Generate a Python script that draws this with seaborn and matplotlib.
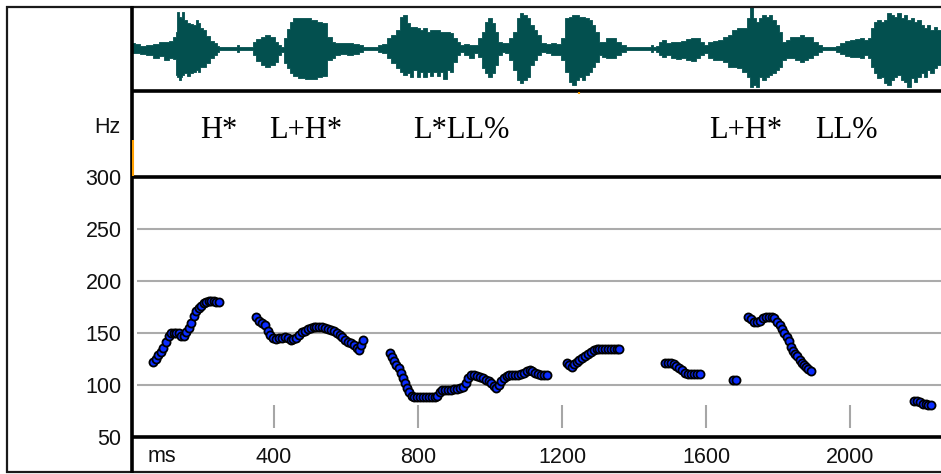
import numpy as np
import pandas as pd
import matplotlib
matplotlib.use("Agg")
import matplotlib.pyplot as plt
from matplotlib.lines import Line2D
import seaborn as sns

# ---------------- data ----------------
# F0 track (ms, Hz), one list pair per voiced stretch
p1_ms = [65, 72, 79, 86, 93, 100, 107, 114, 121, 128, 135, 142, 149, 156, 163, 170, 177, 184,
         191, 198, 205, 212, 219, 226, 233, 240, 246]
p1_hz = [122, 125, 129, 132, 136, 141, 147, 150, 150, 150, 150, 147, 147, 151, 155, 160, 166, 171,
         174, 176, 179, 180, 181, 181, 181, 180, 180]
p2_ms = [350, 358, 366, 374, 382, 390, 398, 406, 414, 422, 430, 438, 446, 454, 462, 470, 478, 486,
         494, 502, 510, 518, 526, 534, 542, 550, 558, 566, 574, 582, 590, 598, 606, 614, 622, 630,
         636, 642, 648]
p2_hz = [165, 162, 160, 158, 152, 148, 145, 144, 145, 145, 146, 145, 143, 144, 145, 148, 151, 152,
         154, 155, 156, 156, 156, 156, 155, 154, 153, 152, 150, 148, 146, 143, 141, 140, 138, 136,
         134, 138, 143]
p3_ms = [722, 728, 734, 740, 746, 752, 758, 764, 770, 776, 782, 790, 798, 806, 814, 822, 830, 838,
         846, 852, 860, 868, 876, 884, 892, 900, 908, 916, 924, 932, 940, 948, 956, 964, 972, 980,
         988, 996, 1004, 1012, 1018, 1024, 1030, 1038, 1046, 1054, 1062, 1070, 1078, 1086, 1094,
         1102, 1110, 1118, 1126, 1134, 1142, 1150, 1157]
p3_hz = [131, 127, 123, 119, 116, 112, 107, 102, 97, 93, 89, 88, 88, 88, 88, 88, 88, 88,
         88, 89, 93, 95, 95, 95, 95, 96, 96, 97, 98, 102, 107, 110, 110, 109, 108, 107,
         105, 104, 102, 99, 97, 100, 104, 107, 109, 110, 110, 110, 110, 111, 112,
         113, 114, 113, 112, 111, 110, 110, 110]
p4_ms = [1213, 1220, 1227, 1234, 1241, 1248, 1256, 1264, 1272, 1280, 1288, 1296, 1304, 1312, 1320,
         1328, 1336, 1344, 1352, 1358]
p4_hz = [121, 119, 117, 120, 122, 124, 126, 128, 130, 132, 134, 135, 135, 135, 135,
         135, 135, 135, 135, 135]
p5_ms = [1486, 1494, 1502, 1510, 1518, 1526, 1534, 1542, 1550, 1558, 1566, 1574, 1583]
p5_hz = [121, 121, 121, 120, 118, 116, 114, 112, 111, 111, 111, 111, 111]
p6_ms = [1676, 1684]
p6_hz = [105, 105]
p7_ms = [1718, 1726, 1734, 1742, 1750, 1758, 1766, 1774, 1782, 1790, 1798, 1806, 1812, 1818, 1824,
         1830, 1836, 1842, 1848, 1854, 1860, 1866, 1872, 1878, 1884, 1891]
p7_hz = [165, 163, 161, 161, 162, 164, 165, 165, 165, 164, 161, 158, 154, 150, 146,
         142, 137, 133, 130, 128, 124, 121, 119, 117, 115, 113]
p8_ms = [2178, 2186, 2194, 2202, 2210, 2218, 2226]
p8_hz = [85, 85, 84, 82, 82, 81, 81]

# waveform envelope (ms, upper, lower amplitude)
wave_ms = [4, 22, 36, 55, 73, 87, 104, 115, 124, 130, 133, 139, 143, 148, 154, 161, 170, 180, 185, 191,
           198, 207, 217, 228, 237, 244, 250, 295, 300, 305, 339, 344, 356, 369, 383, 397, 406, 416,
           425, 431, 439, 448, 457, 476, 494, 513, 527, 541,
           556, 565, 574, 593, 611, 630, 644, 653, 685, 694, 708, 720, 731, 745, 755, 764, 773, 782,
           792, 801, 810, 819, 829, 838, 847, 856, 866, 875, 884, 894, 903, 912, 921, 935, 949, 963,
           972, 981, 991, 1000, 1009, 1019, 1028, 1037, 1046, 1060, 1069, 1079, 1088, 1097, 1106,
           1117, 1126, 1135, 1149, 1163, 1177, 1191, 1205, 1214, 1223, 1233, 1242, 1251, 1260, 1270,
           1279, 1288, 1297, 1307, 1316, 1330, 1344, 1358, 1372, 1381, 1446, 1450, 1455, 1467, 1473,
           1482, 1496, 1510, 1524, 1538, 1552, 1566, 1580, 1589, 1598, 1612, 1626, 1640, 1654, 1668,
           1678, 1692, 1706, 1719, 1726, 1733, 1743, 1752, 1761, 1770, 1780, 1789, 1798, 1807, 1817,
           1826, 1840, 1854, 1867, 1877, 1891, 1904, 1917, 1926, 1956, 1965, 1978, 1993, 2006, 2020,
           2034, 2046, 2056, 2062, 2071, 2080, 2090, 2099, 2108, 2117, 2127, 2136, 2145, 2154, 2164,
           2173, 2182, 2191, 2201, 2210, 2219, 2228, 2238, 2247, 2253]
wave_top = [5.2, 4.2, 2.5, 3.5, 4.2, 6.2, 6.2, 7.5, 11.8, 16.8, 36.8, 31.8, 30.2, 36.8, 28.5, 25.2, 24.2, 23.5, 28.5, 25.2,
            20.2, 18.5, 12.8, 7.5, 5.2, 2.8, 1.2, 1.2, 3.5, 1.2, 1.2, 6.2, 9.5, 11.8, 13.5, 11.8, 6.8, 3.5,
            1.8, 10.2, 19.5, 26.8, 30.2, 30.8, 30.2, 28.5, 26.8, 25.2,
            11.8, 6.8, 5.2, 5.2, 5.2, 4.2, 3.5, 1.2, 1.2, 3.5, 4.2, 10.2, 13.5, 18.5, 31.8, 33.5, 25.2, 21.8,
            21.8, 20.2, 18.5, 20.2, 16.8, 18.5, 18.5, 18.5, 16.8, 16.8, 16.8, 15.2, 10.2, 6.8, 3.5, 4.2, 3.5, 3.5,
            10.2, 16.8, 26.8, 30.2, 25.2, 16.8, 6.8, 5.2, 5.2, 10.2, 16.8, 30.2, 35.2, 33.5, 30.2,
            23.5, 18.5, 13.5, 5.2, 4.2, 5.2, 4.2, 10.2, 30.2, 31.8, 33.5, 33.5, 31.8, 31.8, 30.2,
            28.5, 23.5, 16.8, 6.8, 6.8, 10.2, 10.2, 6.8, 3.5, 1.2, 1.2, 3.5, 1.2, 2.8, 6.8,
            8.5, 5.2, 6.8, 6.2, 7.5, 9.5, 10.2, 10.2, 6.8, 3.5, 6.8, 7.5, 8.5, 11.8, 13.5,
            18.5, 20.2, 20.2, 30.2, 41.8, 30.2, 26.8, 30.2, 33.5, 31.8, 33.5, 28.5, 23.5, 16.8, 6.8,
            8.5, 11.8, 11.8, 13.5, 11.8, 11.8, 6.8, 3.5, 1.2, 1.2, 2.8, 5.2, 7.5, 8.5, 9.5,
            10.2, 8.5, 10.2, 20.2, 26.8, 28.5, 26.8, 28.5, 35.2, 33.5, 31.8, 35.2, 30.2, 33.5, 28.5,
            30.2, 26.8, 28.5, 23.5, 20.2, 23.5, 18.5, 21.8, 18.5, 18.5]
wave_bot = [-4.8, -4.2, -5.8, -6.5, -9.8, -7.5, -11.5, -9.2, -10.5, -26.5, -28.2, -31.5, -28.2, -26.5, -24.8, -27.2, -24.8, -23.2, -21.5, -23.2,
            -18.2, -18.2, -14.8, -9.8, -6.5, -3.8, -1.5, -1.5, -3.2, -1.5, -1.5, -6.5, -12.5, -16.2, -18.2, -16.2, -13.2, -6.5,
            -3.2, -14.8, -19.8, -24.8, -27.2, -29.2, -30.2, -30.2, -28.2, -27.2,
            -11.5, -9.8, -6.5, -5.8, -6.5, -5.8, -3.8, -1.5, -1.5, -3.2, -4.8, -9.8, -14.8, -19.8, -23.2, -26.5, -24.8, -28.2,
            -21.5, -28.2, -23.2, -28.2, -23.2, -27.2, -23.2, -27.2, -23.2, -30.5, -21.5, -23.2, -13.2, -6.5, -3.2, -6.5, -9.8, -4.8,
            -8.2, -19.8, -24.8, -28.2, -24.8, -16.5, -6.5, -3.8, -4.8, -11.5, -21.5, -31.5, -34.8, -31.5, -28.2,
            -16.5, -11.5, -6.5, -3.2, -4.8, -6.5, -6.5, -11.5, -23.2, -33.2, -36.5, -31.5, -28.2, -31.5, -26.5,
            -23.2, -18.2, -13.2, -6.5, -8.2, -9.8, -9.8, -6.5, -3.2, -1.5, -1.5, -3.2, -1.5, -3.2, -6.5,
            -8.2, -6.5, -9.2, -10.5, -9.8, -11.5, -12.5, -9.8, -6.5, -4.8, -9.8, -11.5, -11.5, -13.2, -18.2,
            -18.2, -19.8, -23.2, -28.2, -38.2, -36.5, -38.2, -28.2, -31.5, -28.2, -26.5, -24.8, -21.5, -18.2, -11.5,
            -9.8, -9.8, -11.5, -13.2, -11.5, -9.8, -6.5, -3.2, -1.5, -1.5, -3.2, -5.8, -7.2, -8.2, -8.2,
            -9.8, -6.5, -9.8, -18.2, -24.8, -29.8, -28.2, -34.8, -36.5, -31.5, -28.2, -26.5, -31.5, -33.2, -38.2,
            -29.8, -33.2, -28.2, -24.8, -28.2, -21.5, -24.8, -19.8, -16.5, -16.5]

# labels
tone_labels = ["H*", "L+H*", "L*LL%", "L+H*", "LL%"]
tone_ms = [247, 489, 919, 1711, 1989]
hz_ticks = [50, 100, 150, 200, 250, 300]
grid_hz = [100, 150, 200, 250]
ms_ticks = [400, 800, 1200, 1600, 2000]

pitch = pd.DataFrame({
    "ms": p1_ms + p2_ms + p3_ms + p4_ms + p5_ms + p6_ms + p7_ms + p8_ms,
    "hz": p1_hz + p2_hz + p3_hz + p4_hz + p5_hz + p6_hz + p7_hz + p8_hz,
})

# ---------------- figure ----------------
sns.set_theme(style="white")
plt.rcParams["font.family"] = ["Liberation Sans", "DejaVu Sans"]

W, H = 941, 474
fig = plt.figure(figsize=(W / 100, H / 100), dpi=100)
fig.patch.set_facecolor("white")


def fx(x):
    return x / W


def fy(y):
    return 1 - y / H


XMAX = (941 - 130) / 0.36

ax_wave = fig.add_axes([fx(130), fy(90), 811 / W, 84 / H])
ax_lab = fig.add_axes([fx(130), fy(177), 811 / W, 87 / H])
ax_p = fig.add_axes([fx(130), fy(437), 811 / W, 260 / H])

# waveform
ax_wave.fill_between(wave_ms, wave_bot, wave_top, step="mid", color="#03504f",
                     edgecolor="#03504f", linewidth=0.6)
ax_wave.set_xlim(0, XMAX)
ax_wave.set_ylim(-41.5, 42.5)
ax_wave.axis("off")

# tone labels
ax_lab.set_xlim(0, XMAX)
ax_lab.set_ylim(177, 90)
ax_lab.axis("off")
for lab, t in zip(tone_labels, tone_ms):
    ax_lab.text(t, 138, lab, ha="center", va="baseline", fontsize=22,
                family=["Liberation Serif", "DejaVu Serif"], color="#000000")

# pitch track
ax_p.hlines(grid_hz, 19, XMAX, color="#ababab", lw=1.5, zorder=1)
ax_p.vlines(ms_ticks, 58.7, 80.8, color="#a6a6a6", lw=1.5, zorder=1)
sns.scatterplot(data=pitch, x="ms", y="hz", ax=ax_p, s=34, color="#0a2cff",
                edgecolor="black", linewidth=1.3, zorder=4, legend=False)
ax_p.set_xlim(0, XMAX)
ax_p.set_ylim(50, 300)
ax_p.set_xlabel("")
ax_p.set_ylabel("")
for s in ax_p.spines.values():
    s.set_visible(False)
ax_p.set_yticks(hz_ticks)
ax_p.set_yticklabels([str(v) for v in hz_ticks])
ax_p.set_xticks(ms_ticks)
ax_p.set_xticklabels([str(v) for v in ms_ticks])
ax_p.tick_params(axis="both", length=0, labelsize=15.5, colors="#111111")
ax_p.tick_params(axis="y", pad=6)
ax_p.tick_params(axis="x", pad=7)
ax_p.grid(False)

fig.text(fx(120), fy(133), "Hz", ha="right", va="baseline", fontsize=15.5, color="#111111")
fig.text(fx(162), fy(462), "ms", ha="center", va="baseline", fontsize=15.5, color="#111111")

# frame lines
def hline(y, x0, x1, lw, color="black"):
    fig.add_artist(Line2D([fx(x0), fx(x1)], [fy(y), fy(y)], lw=lw, color=color,
                          solid_capstyle="butt"))


def vline(x, y0, y1, lw, color="black"):
    fig.add_artist(Line2D([fx(x), fx(x)], [fy(y0), fy(y1)], lw=lw, color=color,
                          solid_capstyle="butt"))


hline(6.5, 6, 941, 1.6, "#1a1a1a")
hline(472, 6, 941, 1.6, "#1a1a1a")
vline(7, 6, 473, 1.6, "#1a1a1a")
vline(131.5, 5.5, 473, 2.6)
hline(90.5, 131, 941, 2.6)
hline(177.5, 131, 941, 2.6)
hline(437, 131, 941, 2.6)
vline(133, 140, 176, 1.5, "#ffa000")
vline(579, 91.5, 93.5, 1.5, "#ffa000")

fig.savefig("out.png", dpi=100)
